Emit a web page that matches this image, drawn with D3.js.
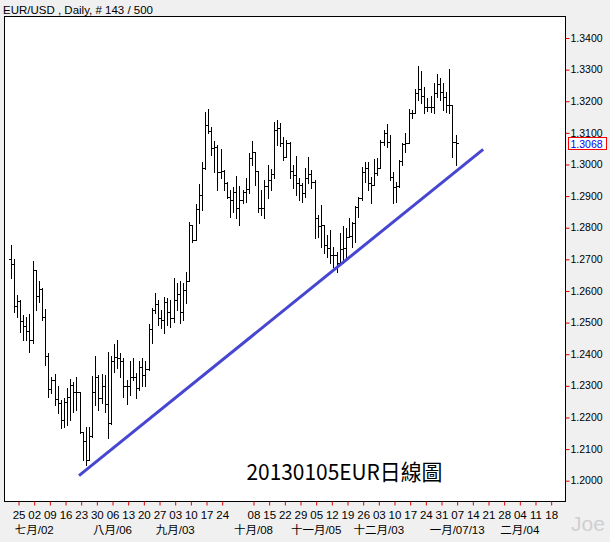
<!DOCTYPE html>
<html><head><meta charset="utf-8">
<script src="https://cdn.jsdelivr.net/npm/d3@7"></script>
<style>html,body{margin:0;padding:0;background:#f0f0f0;}svg{display:block;}</style>
</head><body>
<script>
// ---- data (EUR/USD daily, 143 bars) ----
const highs = [1.2746,1.2700,1.2587,1.2570,1.2524,1.2519,1.2527,1.2695,1.2667,1.2632,
1.2609,1.2543,1.2403,1.2329,1.2337,1.2298,1.2255,1.2261,1.2292,1.2321,
1.2313,1.2329,1.2282,1.2155,1.2171,1.2171,1.2332,1.2395,1.2335,1.2337,
1.2335,1.2406,1.2395,1.2433,1.2445,1.2403,1.2387,1.2319,1.2377,1.2389,
1.2340,1.2377,1.2387,1.2377,1.2495,1.2545,1.2593,1.2572,1.2540,1.2582,
1.2577,1.2572,1.2640,1.2624,1.2630,1.2624,1.2661,1.2817,1.2810,1.2875,
1.2937,1.3007,1.3167,1.3174,1.3120,1.3075,1.3062,1.3048,1.2983,1.2946,
1.2919,1.2928,1.2964,1.2932,1.2919,1.2956,1.3035,1.3075,1.3041,1.2980,
1.2919,1.2951,1.2998,1.2985,1.3135,1.3141,1.3130,1.3088,1.3077,1.3072,
1.2998,1.3027,1.2956,1.2942,1.2988,1.3023,1.2983,1.2951,1.2840,1.2872,
1.2809,1.2777,1.2793,1.2740,1.2724,1.2782,1.2805,1.2798,1.2830,1.2819,
1.2869,1.2898,1.2993,1.3009,1.3009,1.2961,1.3016,1.3019,1.3077,1.3109,
1.3128,1.3093,1.2977,1.2946,1.3014,1.3069,1.3101,1.3174,1.3172,1.3238,
1.3311,1.3297,1.3244,1.3209,1.3215,1.3259,1.3286,1.3272,1.3259,1.3230,
1.3302,1.3188,1.3093];
const lows = [1.2640,1.2535,1.2519,1.2471,1.2445,1.2445,1.2408,1.2435,1.2540,1.2566,
1.2508,1.2366,1.2266,1.2276,1.2240,1.2213,1.2166,1.2171,1.2176,1.2192,
1.2218,1.2224,1.2150,1.2066,1.2050,1.2066,1.2139,1.2240,1.2224,1.2245,
1.2218,1.2134,1.2180,1.2345,1.2356,1.2329,1.2266,1.2243,1.2271,1.2319,
1.2261,1.2287,1.2298,1.2298,1.2350,1.2435,1.2529,1.2493,1.2482,1.2466,
1.2493,1.2487,1.2503,1.2540,1.2498,1.2508,1.2561,1.2630,1.2756,1.2761,
1.2816,1.2856,1.2985,1.3098,1.3030,1.2977,1.2919,1.2956,1.2919,1.2893,
1.2835,1.2851,1.2830,1.2809,1.2877,1.2882,1.2909,1.2998,1.2935,1.2851,
1.2840,1.2830,1.2893,1.2919,1.2956,1.3062,1.3058,1.3014,1.3025,1.2956,
1.2925,1.2903,1.2888,1.2882,1.2898,1.2940,1.2925,1.2766,1.2772,1.2740,
1.2719,1.2708,1.2687,1.2677,1.2661,1.2687,1.2687,1.2708,1.2772,1.2740,
1.2756,1.2835,1.2888,1.2946,1.2919,1.2879,1.2935,1.2967,1.2988,1.3062,
1.3056,1.2951,1.2877,1.2882,1.2930,1.2998,1.3040,1.3067,1.3146,1.3162,
1.3204,1.3193,1.3162,1.3170,1.3167,1.3162,1.3214,1.3204,1.3172,1.3167,
1.3163,1.3025,1.2998];
const closes = [1.2684,1.2553,1.2568,1.2506,1.2489,1.2474,1.2445,1.2667,1.2584,1.2605,
1.2517,1.2395,1.2289,1.2319,1.2258,1.2247,1.2192,1.2250,1.2266,1.2303,
1.2279,1.2280,1.2155,1.2127,1.2066,1.2142,1.2279,1.2329,1.2261,1.2298,
1.2243,1.2184,1.2380,1.2390,1.2389,1.2377,1.2298,1.2298,1.2329,1.2329,
1.2292,1.2361,1.2335,1.2352,1.2480,1.2540,1.2559,1.2514,1.2508,1.2566,
1.2535,1.2514,1.2572,1.2591,1.2535,1.2603,1.2633,1.2810,1.2761,1.2858,
1.2903,1.2988,1.3125,1.3107,1.3051,1.3056,1.2977,1.2980,1.2942,1.2898,
1.2888,1.2914,1.2861,1.2888,1.2914,1.2922,1.3019,1.3041,1.2980,1.2863,
1.2863,1.2932,1.2951,1.2970,1.3109,1.3114,1.3067,1.3025,1.3069,1.2980,
1.2967,1.2940,1.2935,1.2909,1.2956,1.2970,1.2946,1.2830,1.2805,1.2809,
1.2745,1.2735,1.2714,1.2714,1.2687,1.2732,1.2735,1.2772,1.2774,1.2814,
1.2864,1.2893,1.2977,1.2988,1.2940,1.2935,1.2972,1.2988,1.3072,1.3098,
1.3072,1.2961,1.2930,1.2932,1.3010,1.3064,1.3067,1.3162,1.3164,1.3227,
1.3238,1.3217,1.3183,1.3181,1.3181,1.3227,1.3254,1.3230,1.3212,1.3188,
1.3188,1.3070,1.3068];
const firstOpen = 1.2700;
const lastPrice = 1.3068;

// y-axis ticks
const yTicks = [1.20,1.21,1.22,1.23,1.24,1.25,1.26,1.27,1.28,1.29,1.30,1.31,1.32,1.33,1.34];
// weekly ticks: week number (from the week of 25 Jun 2012) and day label
const weekIdx = [0,1,2,3,4,5,6,7,8,9,10,11,12,13,15,16,17,18,19,20,21,22,23,24,25,26,27,28,29,30,31,32,33,34];
const weekLabels = ["25","02","09","16","23","30","06","13","20","27","03","10","17","24","08","15","22","29","05","12","19","26","03","10","17","24","31","07","14","21","28","04","11","18"];
// month labels: week number and text
const monthWeeks = [1,6,10,15,19,23,28,32];
const monthLabels = ["七月/02","八月/06","九月/03","十月/08","十一月/05","十二月/03","一月/07/13","二月/04"];
// trend line (bar index, price)
const trendIdx = [21.8, 150.8];
const trendPrice = [1.2016, 1.3048];

const title = "EUR/USD , Daily, # 143 / 500";
const note = "20130105EUR日線圖";

// ---- drawing ----
const W = 610, H = 542;
const plot = {left: 4.5, top: 16.5, right: 565.5, bottom: 501.5};
const svg = d3.select("body").append("svg").attr("width", W).attr("height", H);
svg.append("rect").attr("width", W).attr("height", H).attr("fill", "#f0f0f0");
svg.append("rect").attr("x", plot.left).attr("y", plot.top)
  .attr("width", plot.right - plot.left).attr("height", plot.bottom - plot.top)
  .attr("fill", "#fff").attr("stroke", "#000").attr("stroke-width", 1);

const x = d3.scaleLinear().domain([0, 142]).range([10.7, 455.6]);
const y = d3.scaleLinear().domain([1.20, 1.34]).range([480.7, 38]);
const weekX = w => x(2.5 + 5 * w);

const font = "'Liberation Sans', Arial, 'Noto Sans CJK TC', sans-serif";

// title
svg.append("text").attr("x", 3).attr("y", 13.5).attr("font-family", font)
  .attr("font-size", 11.5).attr("fill", "#000").text(title);

// right axis
const yAxis = d3.axisRight(y).tickValues(yTicks).tickSize(4).tickPadding(1)
  .tickFormat(d3.format(".4f"));
const gy = svg.append("g").attr("transform", `translate(${plot.right},0)`).call(yAxis);
gy.select(".domain").remove();
gy.selectAll(".tick line").attr("stroke", "#e00000");
gy.selectAll(".tick text").attr("font-family", font).attr("font-size", 10.5).attr("fill", "#000")
  .attr("dy", "0.3em");

// bottom axis (weekly)
const xb = d3.scaleOrdinal().domain(weekIdx).range(weekIdx.map(weekX));
const xAxis = d3.axisBottom(xb).tickValues(weekIdx).tickSize(4).tickPadding(5)
  .tickFormat((d, i) => weekLabels[i]);
const gx = svg.append("g").attr("transform", `translate(0,${plot.bottom})`).call(xAxis);
gx.select(".domain").remove();
gx.selectAll(".tick line").attr("stroke", "#e00000");
gx.selectAll(".tick text").attr("font-family", font).attr("font-size", 11.5).attr("fill", "#000");

// month labels
svg.append("g").selectAll("text").data(monthWeeks).join("text")
  .attr("x", d => weekX(d)).attr("y", 534).attr("text-anchor", "middle")
  .attr("font-family", font).attr("font-size", 11.5).attr("fill", "#000")
  .text((d, i) => monthLabels[i]);

// OHLC bars
const bars = closes.map((c, i) => ({i, h: highs[i], l: lows[i], c, o: i === 0 ? firstOpen : closes[i - 1]}));
const px = v => Math.round(v) + 0.5;
const gb = svg.append("g").attr("stroke", "#000").attr("stroke-width", 1).attr("shape-rendering", "crispEdges");
gb.selectAll("line.v").data(bars).join("line").attr("class", "v")
  .attr("x1", d => px(x(d.i))).attr("x2", d => px(x(d.i)))
  .attr("y1", d => y(d.h)).attr("y2", d => y(d.l) + 1);
gb.selectAll("line.o").data(bars).join("line").attr("class", "o")
  .attr("x1", d => px(x(d.i)) - 2.5).attr("x2", d => px(x(d.i)))
  .attr("y1", d => px(y(d.o))).attr("y2", d => px(y(d.o)));
gb.selectAll("line.c").data(bars).join("line").attr("class", "c")
  .attr("x1", d => px(x(d.i))).attr("x2", d => px(x(d.i)) + 2.5)
  .attr("y1", d => px(y(d.c))).attr("y2", d => px(y(d.c)));

// trend line
svg.append("line")
  .attr("x1", x(trendIdx[0])).attr("y1", y(trendPrice[0]))
  .attr("x2", x(trendIdx[1])).attr("y2", y(trendPrice[1]))
  .attr("stroke", "#4646d2").attr("stroke-width", 3);

// last price box
const ly = y(lastPrice);
svg.append("rect").attr("x", 568.5).attr("y", Math.round(ly) - 5.5).attr("width", 38).attr("height", 12)
  .attr("fill", "#fff").attr("stroke", "#ff0000").attr("stroke-width", 1);
svg.append("text").attr("x", 570.5).attr("y", Math.round(ly) + 4.5).attr("font-family", font)
  .attr("font-size", 10.5).attr("fill", "#0000ff").text(d3.format(".4f")(lastPrice));

// annotation
svg.append("text").attr("x", 246.5).attr("y", 480).attr("font-family", "'Noto Sans CJK TC', 'Noto Sans', sans-serif")
  .attr("font-size", 22).attr("fill", "#000").attr("textLength", 196).attr("lengthAdjust", "spacingAndGlyphs")
  .text(note);

// watermark
svg.append("text").attr("x", 571).attr("y", 531).attr("font-family", font)
  .attr("font-size", 21).attr("fill", "#cfcfcf").text("Joe");
</script>
</body></html>
